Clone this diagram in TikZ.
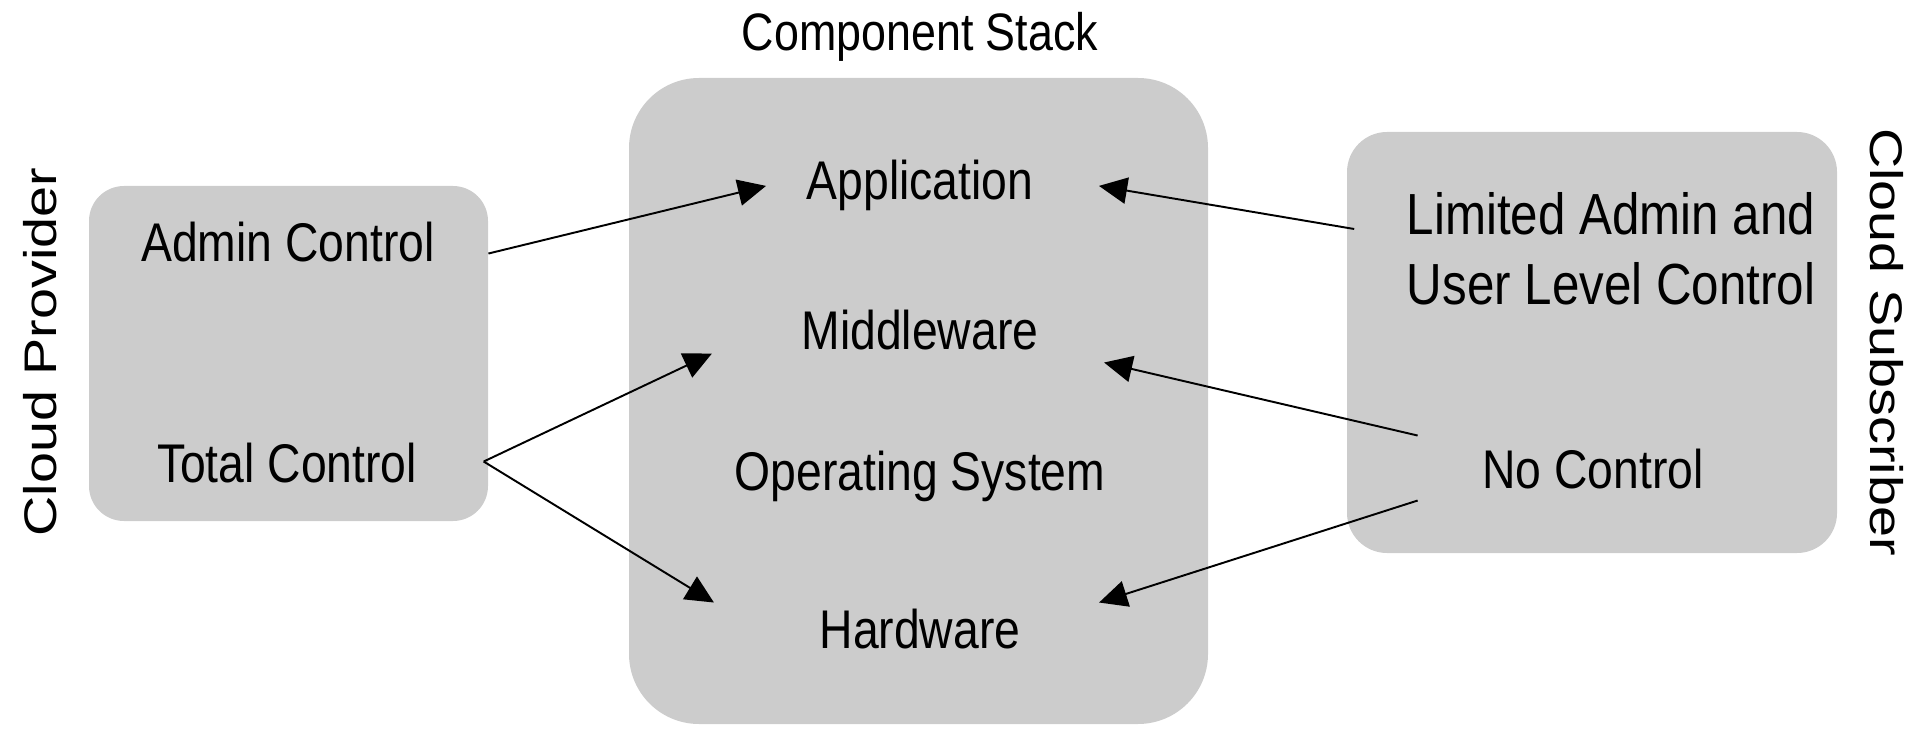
\documentclass[tikz,border=0pt]{standalone}
\usepackage{fontspec}
\setmainfont{Liberation Sans}[FakeStretch=0.85]
\newfontfamily\sidefont{Liberation Sans}[FakeStretch=1.22]
\usetikzlibrary{arrows.meta,positioning,calc}
\definecolor{cPanel}{HTML}{CCCCCC}

\begin{document}
\begin{tikzpicture}[
    font=\fontsize{15.5}{18}\selectfont,
    panel/.style={fill=cPanel, inner sep=0pt},
    item/.style={inner sep=0pt, anchor=base, align=center},
    side/.style={inner sep=0pt, font=\sidefont\fontsize{13}{15}\selectfont},
    arr/.style={-{Triangle[length=8pt,width=7.5pt]}, line width=0.55pt, draw=black}
]
\useasboundingbox (0,0) rectangle (19.14,7.30);

% the three grey panels
\node[panel, rounded corners=3.5mm, minimum width=3.99cm, minimum height=3.35cm] (provider) at (2.885,3.765) {};
\node[panel, rounded corners=7mm, minimum width=5.79cm, minimum height=6.46cm] (stack) at (9.185,3.29) {};
\node[panel, rounded corners=4mm, minimum width=4.90cm, minimum height=4.21cm] (subscriber) at (15.92,3.875) {};

\node[item, font=\fontsize{15}{17}\selectfont] (title) at (9.20,6.79) {Component Stack};
\node[side, rotate=90] (provlabel) at (0.40,3.78) {Cloud Provider};
\node[side, rotate=-90] (sublabel) at (18.87,3.88) {Cloud Subscriber};

\node[item] (admin) at (2.88,4.68) {Admin Control};
\node[item] (total) at (2.87,2.47) {Total Control};

\node[item] (app) at (9.20,5.30) {Application};
\node[item] (mid) at (9.20,3.80) {Middleware};
\node[item] (os) at (9.20,2.40) {Operating System};
\node[item] (hw) at (9.20,0.82) {Hardware};

\node[inner sep=0pt, align=center, font=\fontsize{16.5}{19.9}\selectfont] (limited) at (16.11,4.81) {Limited Admin and\\User Level Control};
\node[item] (noctl) at (15.93,2.42) {No Control};

\draw[arr] ([shift={(0.53,-0.11)}]admin.east) -- ([xshift=-4mm]app.west);
\draw[arr] ([shift={(0.66,0.02)}]total.east) -- ([shift={(-0.89,-0.23)}]mid.west);
\draw[arr] ([shift={(0.66,0.02)}]total.east) -- ([shift={(-1.05,0.26)}]hw.west);

\draw[arr] ([shift={(-0.52,0.20)}]limited.west) -- ([xshift=6.5mm]app.east);
\draw[arr] ([shift={(-0.64,0.33)}]noctl.west) -- ([shift={(0.65,-0.32)}]mid.east);
\draw[arr] ([shift={(-0.64,-0.32)}]noctl.west) -- ([shift={(0.78,0.26)}]hw.east);

\end{tikzpicture}
\end{document}
